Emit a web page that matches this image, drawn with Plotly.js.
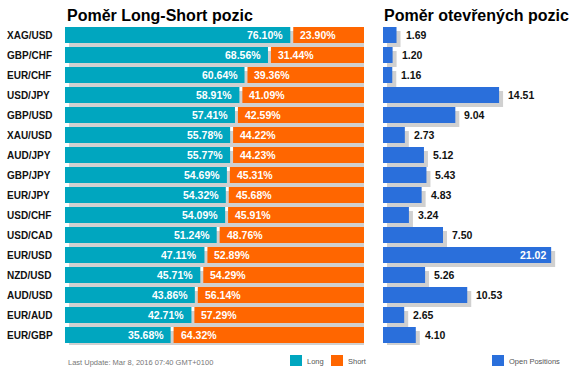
<!DOCTYPE html>
<html>
<head>
<meta charset="utf-8">
<script src="https://cdn.plot.ly/plotly-3.0.1.min.js"></script>
<style>html,body{margin:0;padding:0;background:#fff;}#chart{width:574px;height:373px;}</style>
</head>
<body>
<div id="chart"></div>
<script>
// ---- data ----
const pairs = ["XAG/USD","GBP/CHF","EUR/CHF","USD/JPY","GBP/USD","XAU/USD","AUD/JPY","GBP/JPY","EUR/JPY","USD/CHF","USD/CAD","EUR/USD","NZD/USD","AUD/USD","EUR/AUD","EUR/GBP"];
const longPct  = [76.10,68.56,60.64,58.91,57.41,55.78,55.77,54.69,54.32,54.09,51.24,47.11,45.71,43.86,42.71,35.68];
const shortPct = [23.90,31.44,39.36,41.09,42.59,44.22,44.23,45.31,45.68,45.91,48.76,52.89,54.29,56.14,57.29,64.32];
const openPos  = [1.69,1.20,1.16,14.51,9.04,2.73,5.12,5.43,4.83,3.24,7.50,21.02,5.26,10.53,2.65,4.10];
const titleLeft = "Poměr Long-Short pozic";
const titleRight = "Poměr otevřených pozic";
const updateText = "Last Update: Mar 8, 2016 07:40 GMT+0100";
const legendLabels = ["Long","Short","Open Positions"];

// ---- styling ----
const W = 574, H = 373;
const C_LONG = "#00a6bf", C_SHORT = "#ff6600", C_OPEN = "#2a6fdb", C_SHADOW = "#d0d0d0";
const FONT = "Arial, 'Liberation Sans', sans-serif";
const GAP = 1;            // gap between long and short bars (in % units)
const LMAX = 100 + GAP;
const RMAX = 22.5;
const px = v => v / W;
const py = v => 1 - v / H;
const LDOM = [px(65), px(364)];
const RDOM = [px(383), px(563)];
const YDOM = [py(345), py(25)];
const SH = 4; // shadow offset px
const lUnit = (364 - 65) / LMAX, rUnit = (563 - 383) / RMAX, yUnit = 20;
const n = pairs.length;

const ones = pairs.map(() => LMAX);
const traces = [
  // shadows (base axes)
  {type:"bar", orientation:"h", y:pairs, x:ones, base:0, xaxis:"x", yaxis:"y", width:0.8,
   marker:{color:C_SHADOW}, hoverinfo:"skip", showlegend:false},
  {type:"bar", orientation:"h", y:pairs, x:openPos, base:0, xaxis:"x2", yaxis:"y", width:0.8,
   marker:{color:C_SHADOW}, hoverinfo:"skip", showlegend:false},
  // main bars (overlay axes)
  {type:"bar", orientation:"h", y:pairs, x:longPct, base:0, xaxis:"x3", yaxis:"y3", width:0.8,
   marker:{color:C_LONG}, name:"Long", showlegend:false},
  {type:"bar", orientation:"h", y:pairs, x:shortPct, base:longPct.map(v => v + GAP), xaxis:"x3", yaxis:"y3", width:0.8,
   marker:{color:C_SHORT}, name:"Short", showlegend:false},
  {type:"bar", orientation:"h", y:pairs, x:openPos, base:0, xaxis:"x4", yaxis:"y3", width:0.8,
   marker:{color:C_OPEN}, name:"Open Positions", showlegend:false}
];

const hidden = {showgrid:false, zeroline:false, showticklabels:false, showline:false, ticks:"", fixedrange:true};
const annotations = [];
const lblFont = {family:FONT, size:10.5, color:"#fff", weight:"bold"};
pairs.forEach((p, i) => {
  annotations.push({xref:"paper", yref:"y3", x:px(5), y:p, xanchor:"left", yanchor:"middle", showarrow:false,
    text:"<b>"+p+"</b>", font:{family:FONT, size:10, color:"#111"}});
  annotations.push({xref:"x3", yref:"y3", x:longPct[i], y:p, xanchor:"right", yanchor:"middle", xshift:-5, showarrow:false,
    text:"<b>"+longPct[i].toFixed(2)+"%</b>", font:lblFont});
  annotations.push({xref:"x3", yref:"y3", x:longPct[i] + GAP, y:p, xanchor:"left", yanchor:"middle", xshift:5, showarrow:false,
    text:"<b>"+shortPct[i].toFixed(2)+"%</b>", font:lblFont});
  const inside = openPos[i] > RMAX * 0.85;
  annotations.push({xref:"x4", yref:"y3", x:openPos[i], y:p, xanchor:inside ? "right" : "left", yanchor:"middle",
    xshift:inside ? -3 : 7, showarrow:false,
    text:"<b>"+openPos[i].toFixed(2)+"</b>", font:{family:FONT, size:10.5, color:inside ? "#fff" : "#111"}});
});
annotations.push({xref:"paper", yref:"paper", x:px(65), y:py(15), xanchor:"left", yanchor:"middle", showarrow:false,
  text:"<b>"+titleLeft+"</b>", font:{family:FONT, size:16, color:"#000"}});
annotations.push({xref:"paper", yref:"paper", x:px(382), y:py(15), xanchor:"left", yanchor:"middle", showarrow:false,
  text:"<b>"+titleRight+"</b>", font:{family:FONT, size:16, color:"#000"}});
annotations.push({xref:"paper", yref:"paper", x:px(66), y:py(362), xanchor:"left", yanchor:"middle", showarrow:false,
  text:updateText, font:{family:FONT, size:7.5, color:"#777"}});
const legendItems = [[290, legendLabels[0], C_LONG], [331, legendLabels[1], C_SHORT], [492, legendLabels[2], C_OPEN]];
const shapes = [];
legendItems.forEach(([x0, label, col]) => {
  shapes.push({type:"rect", xref:"paper", yref:"paper", x0:px(x0), x1:px(x0 + 12), y0:py(366), y1:py(355), fillcolor:col, line:{width:0}});
  annotations.push({xref:"paper", yref:"paper", x:px(x0 + 15), y:py(361), xanchor:"left", yanchor:"middle", showarrow:false,
    text:label, font:{family:FONT, size:7.5, color:"#555"}});
});

const layout = {
  width:W, height:H, margin:{l:0, r:0, t:0, b:0},
  paper_bgcolor:"#fff", plot_bgcolor:"rgba(0,0,0,0)", showlegend:false, barmode:"overlay",
  xaxis: Object.assign({}, hidden, {domain:LDOM, range:[-SH / lUnit, LMAX - SH / lUnit], anchor:"y"}),
  xaxis2: Object.assign({}, hidden, {domain:RDOM, range:[-SH / rUnit, RMAX - SH / rUnit], anchor:"y"}),
  xaxis3: Object.assign({}, hidden, {domain:LDOM, range:[0, LMAX], overlaying:"x", anchor:"y3"}),
  xaxis4: Object.assign({}, hidden, {domain:RDOM, range:[0, RMAX], overlaying:"x2", anchor:"y3"}),
  yaxis: Object.assign({}, hidden, {domain:YDOM, type:"category", categoryorder:"array", categoryarray:pairs,
    range:[n - 0.5 - SH / yUnit, -0.5 - SH / yUnit], anchor:"x"}),
  yaxis3: Object.assign({}, hidden, {domain:YDOM, type:"category", categoryorder:"array", categoryarray:pairs,
    range:[n - 0.5, -0.5], overlaying:"y", anchor:"x3"}),
  annotations: annotations, shapes: shapes
};
Plotly.newPlot("chart", traces, layout, {staticPlot:true, displayModeBar:false});
</script>
</body>
</html>
